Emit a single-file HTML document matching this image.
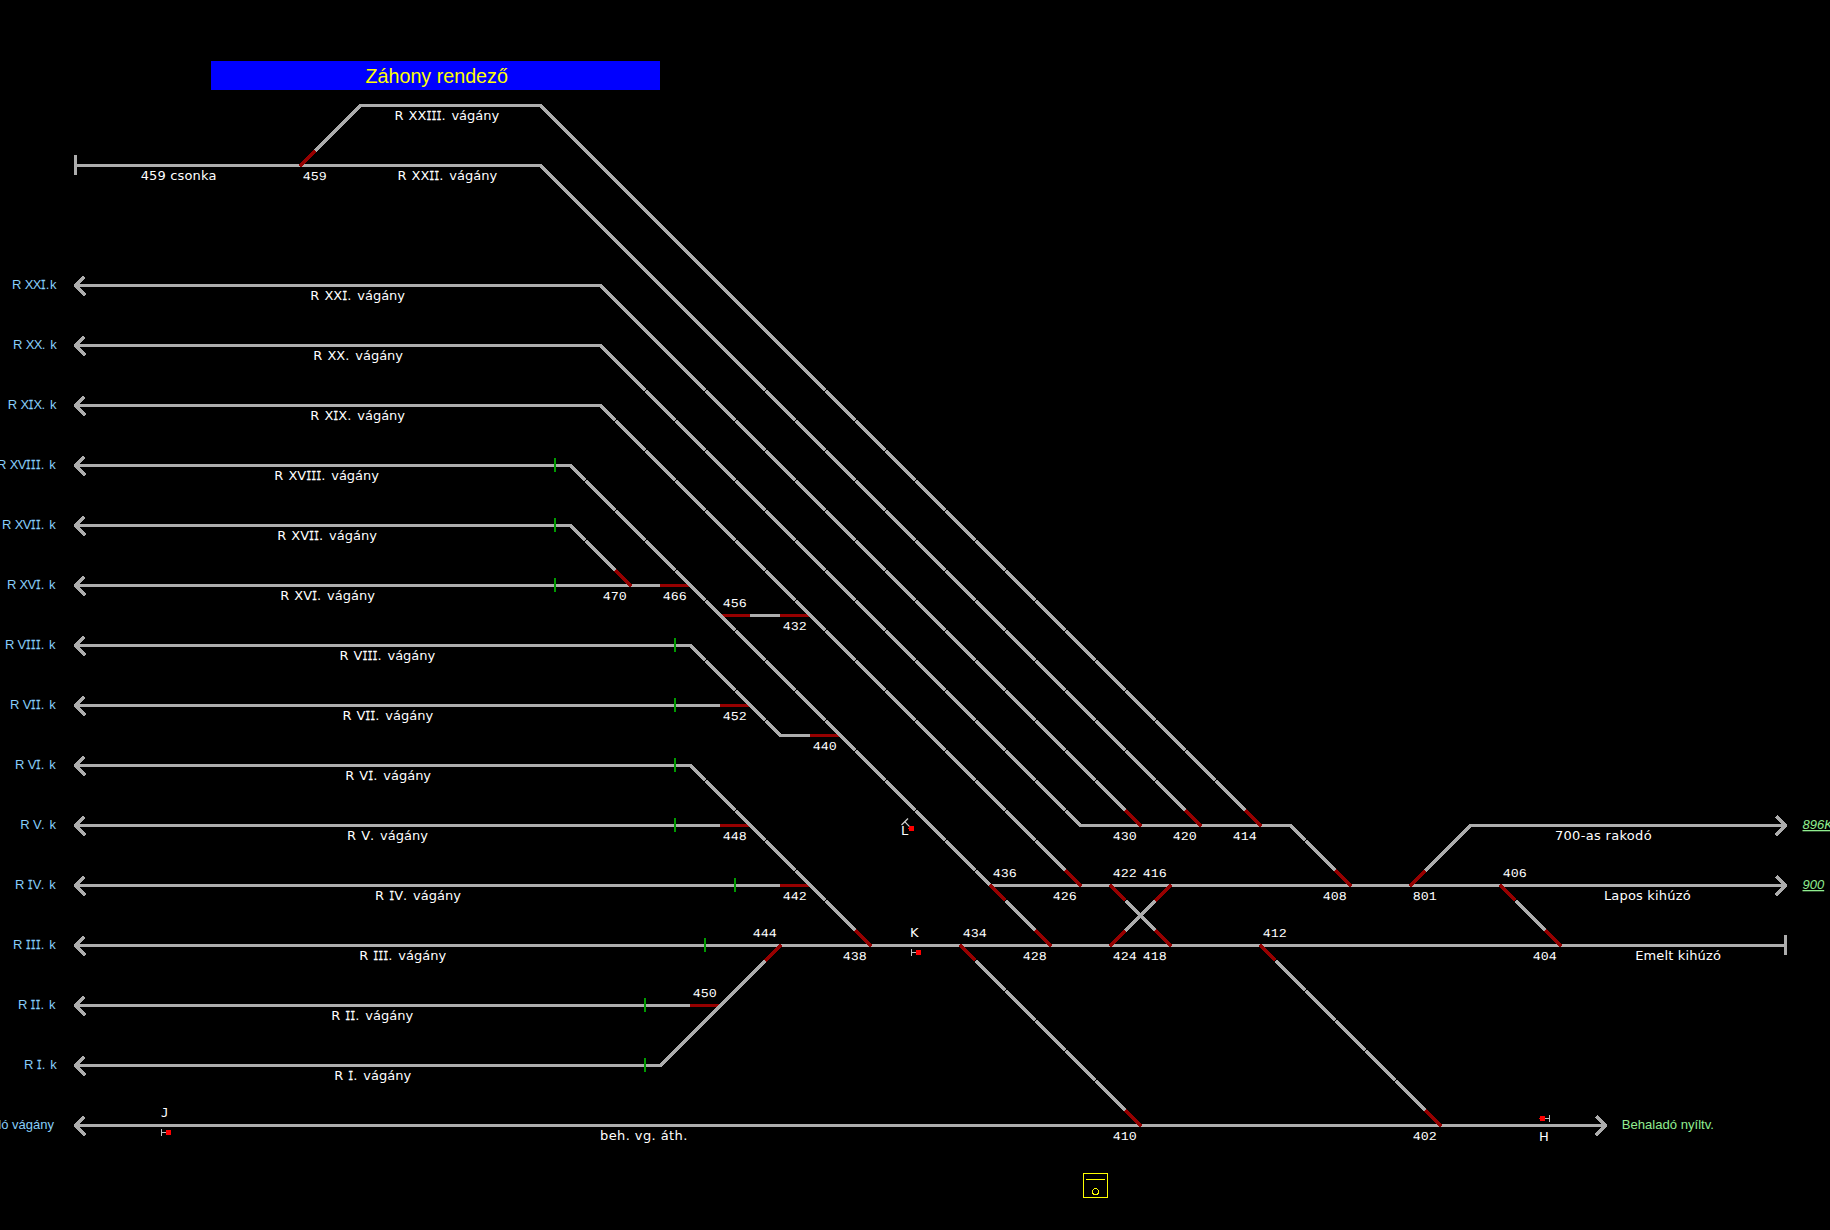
<!DOCTYPE html>
<html lang="hu"><head><meta charset="utf-8"><title>Záhony rendező</title>
<style>
html,body{margin:0;padding:0;background:#000;overflow:hidden}
svg{display:block}
</style></head>
<body>
<svg width="1830" height="1230" viewBox="0 0 1830 1230">
<rect width="1830" height="1230" fill="#000"/>
<rect x="211" y="61" width="449" height="29" fill="#00f"/>
<text x="436.7" y="83" font-family='"Liberation Sans",sans-serif' font-size="19.7" fill="#ff0" text-anchor="middle">Záhony rendező</text>
<g transform="translate(.49,.5)">
<g fill="none" stroke="#adadad" stroke-width="3.5" stroke-linejoin="miter" shape-rendering="crispEdges">
<polyline points="300,165 360,105 540,105 1260,825"/>
<polyline points="75,165 540,165 1200,825"/>
<polyline points="75,285 600,285 1140,825"/>
<polyline points="75,345 600,345 1080,825 1290,825 1350,885"/>
<polyline points="75,405 600,405 1080,885"/>
<polyline points="75,465 570,465 1050,945"/>
<polyline points="75,525 570,525 630,585"/>
<polyline points="75,585 690,585"/>
<polyline points="720,615 810,615"/>
<polyline points="75,645 690,645 780,735 840,735"/>
<polyline points="75,705 750,705"/>
<polyline points="75,765 690,765 870,945"/>
<polyline points="75,825 750,825"/>
<polyline points="75,885 810,885"/>
<polyline points="990,885 1785,885"/>
<polyline points="75,945 1785,945"/>
<polyline points="75,1005 720,1005"/>
<polyline points="75,1065 660,1065 780,945"/>
<polyline points="75,1125 1605,1125"/>
<polyline points="960,945 1140,1125"/>
<polyline points="1260,945 1440,1125"/>
<polyline points="1110,885 1170,945"/>
<polyline points="1170,885 1110,945"/>
<polyline points="1410,885 1470,825 1785,825"/>
<polyline points="1500,885 1560,945"/>
</g>
<g stroke="#960000" stroke-width="3.5" shape-rendering="crispEdges">
<line x1="660" y1="585" x2="690" y2="585"/>
<line x1="720" y1="615" x2="750" y2="615"/>
<line x1="780" y1="615" x2="810" y2="615"/>
<line x1="720" y1="705" x2="750" y2="705"/>
<line x1="810" y1="735" x2="840" y2="735"/>
<line x1="720" y1="825" x2="750" y2="825"/>
<line x1="780" y1="885" x2="810" y2="885"/>
<line x1="690" y1="1005" x2="720" y2="1005"/>
</g>
<g stroke="#adadad" stroke-width="3.5" shape-rendering="crispEdges">
<line x1="300" y1="165" x2="360" y2="105"/>
<line x1="540" y1="105" x2="1260" y2="825"/>
<line x1="540" y1="165" x2="1200" y2="825"/>
<line x1="600" y1="285" x2="1140" y2="825"/>
<line x1="600" y1="345" x2="1080" y2="825"/>
<line x1="1290" y1="825" x2="1350" y2="885"/>
<line x1="600" y1="405" x2="1080" y2="885"/>
<line x1="570" y1="465" x2="1050" y2="945"/>
<line x1="570" y1="525" x2="630" y2="585"/>
<line x1="690" y1="645" x2="780" y2="735"/>
<line x1="690" y1="765" x2="870" y2="945"/>
<line x1="660" y1="1065" x2="780" y2="945"/>
<line x1="960" y1="945" x2="1140" y2="1125"/>
<line x1="1260" y1="945" x2="1440" y2="1125"/>
<line x1="1110" y1="885" x2="1170" y2="945"/>
<line x1="1170" y1="885" x2="1110" y2="945"/>
<line x1="1410" y1="885" x2="1470" y2="825"/>
<line x1="1500" y1="885" x2="1560" y2="945"/>
</g>
<g stroke="#000" stroke-width="1">
<line x1="822" y1="393" x2="828" y2="387"/>
<line x1="852" y1="423" x2="858" y2="417"/>
<line x1="882" y1="453" x2="888" y2="447"/>
<line x1="912" y1="483" x2="918" y2="477"/>
<line x1="942" y1="513" x2="948" y2="507"/>
<line x1="972" y1="543" x2="978" y2="537"/>
<line x1="1002" y1="573" x2="1008" y2="567"/>
<line x1="1032" y1="603" x2="1038" y2="597"/>
<line x1="1062" y1="633" x2="1068" y2="627"/>
<line x1="1092" y1="663" x2="1098" y2="657"/>
<line x1="1122" y1="693" x2="1128" y2="687"/>
<line x1="1152" y1="723" x2="1158" y2="717"/>
<line x1="1182" y1="753" x2="1188" y2="747"/>
<line x1="1212" y1="783" x2="1218" y2="777"/>
<line x1="1242" y1="813" x2="1248" y2="807"/>
<line x1="762" y1="393" x2="768" y2="387"/>
<line x1="792" y1="423" x2="798" y2="417"/>
<line x1="822" y1="453" x2="828" y2="447"/>
<line x1="852" y1="483" x2="858" y2="477"/>
<line x1="882" y1="513" x2="888" y2="507"/>
<line x1="912" y1="543" x2="918" y2="537"/>
<line x1="942" y1="573" x2="948" y2="567"/>
<line x1="972" y1="603" x2="978" y2="597"/>
<line x1="1002" y1="633" x2="1008" y2="627"/>
<line x1="1032" y1="663" x2="1038" y2="657"/>
<line x1="1062" y1="693" x2="1068" y2="687"/>
<line x1="1092" y1="723" x2="1098" y2="717"/>
<line x1="1122" y1="753" x2="1128" y2="747"/>
<line x1="1152" y1="783" x2="1158" y2="777"/>
<line x1="1182" y1="813" x2="1188" y2="807"/>
<line x1="702" y1="393" x2="708" y2="387"/>
<line x1="732" y1="423" x2="738" y2="417"/>
<line x1="762" y1="453" x2="768" y2="447"/>
<line x1="792" y1="483" x2="798" y2="477"/>
<line x1="822" y1="513" x2="828" y2="507"/>
<line x1="852" y1="543" x2="858" y2="537"/>
<line x1="882" y1="573" x2="888" y2="567"/>
<line x1="912" y1="603" x2="918" y2="597"/>
<line x1="942" y1="633" x2="948" y2="627"/>
<line x1="972" y1="663" x2="978" y2="657"/>
<line x1="1002" y1="693" x2="1008" y2="687"/>
<line x1="1032" y1="723" x2="1038" y2="717"/>
<line x1="1062" y1="753" x2="1068" y2="747"/>
<line x1="1092" y1="783" x2="1098" y2="777"/>
<line x1="1122" y1="813" x2="1128" y2="807"/>
<line x1="642" y1="393" x2="648" y2="387"/>
<line x1="672" y1="423" x2="678" y2="417"/>
<line x1="702" y1="453" x2="708" y2="447"/>
<line x1="732" y1="483" x2="738" y2="477"/>
<line x1="762" y1="513" x2="768" y2="507"/>
<line x1="792" y1="543" x2="798" y2="537"/>
<line x1="822" y1="573" x2="828" y2="567"/>
<line x1="852" y1="603" x2="858" y2="597"/>
<line x1="882" y1="633" x2="888" y2="627"/>
<line x1="912" y1="663" x2="918" y2="657"/>
<line x1="942" y1="693" x2="948" y2="687"/>
<line x1="972" y1="723" x2="978" y2="717"/>
<line x1="1002" y1="753" x2="1008" y2="747"/>
<line x1="1032" y1="783" x2="1038" y2="777"/>
<line x1="1062" y1="813" x2="1068" y2="807"/>
<line x1="1302" y1="843" x2="1308" y2="837"/>
<line x1="1332" y1="873" x2="1338" y2="867"/>
<line x1="612" y1="423" x2="618" y2="417"/>
<line x1="642" y1="453" x2="648" y2="447"/>
<line x1="672" y1="483" x2="678" y2="477"/>
<line x1="702" y1="513" x2="708" y2="507"/>
<line x1="732" y1="543" x2="738" y2="537"/>
<line x1="762" y1="573" x2="768" y2="567"/>
<line x1="792" y1="603" x2="798" y2="597"/>
<line x1="822" y1="633" x2="828" y2="627"/>
<line x1="852" y1="663" x2="858" y2="657"/>
<line x1="882" y1="693" x2="888" y2="687"/>
<line x1="912" y1="723" x2="918" y2="717"/>
<line x1="942" y1="753" x2="948" y2="747"/>
<line x1="972" y1="783" x2="978" y2="777"/>
<line x1="1002" y1="813" x2="1008" y2="807"/>
<line x1="1032" y1="843" x2="1038" y2="837"/>
<line x1="1062" y1="873" x2="1068" y2="867"/>
<line x1="582" y1="483" x2="588" y2="477"/>
<line x1="612" y1="513" x2="618" y2="507"/>
<line x1="642" y1="543" x2="648" y2="537"/>
<line x1="672" y1="573" x2="678" y2="567"/>
<line x1="702" y1="603" x2="708" y2="597"/>
<line x1="732" y1="633" x2="738" y2="627"/>
<line x1="762" y1="663" x2="768" y2="657"/>
<line x1="792" y1="693" x2="798" y2="687"/>
<line x1="822" y1="723" x2="828" y2="717"/>
<line x1="852" y1="753" x2="858" y2="747"/>
<line x1="882" y1="783" x2="888" y2="777"/>
<line x1="912" y1="813" x2="918" y2="807"/>
<line x1="942" y1="843" x2="948" y2="837"/>
<line x1="972" y1="873" x2="978" y2="867"/>
<line x1="1002" y1="903" x2="1008" y2="897"/>
<line x1="1032" y1="933" x2="1038" y2="927"/>
<line x1="582" y1="543" x2="588" y2="537"/>
<line x1="612" y1="573" x2="618" y2="567"/>
<line x1="702" y1="663" x2="708" y2="657"/>
<line x1="732" y1="693" x2="738" y2="687"/>
<line x1="762" y1="723" x2="768" y2="717"/>
<line x1="702" y1="783" x2="708" y2="777"/>
<line x1="732" y1="813" x2="738" y2="807"/>
<line x1="762" y1="843" x2="768" y2="837"/>
<line x1="792" y1="873" x2="798" y2="867"/>
<line x1="822" y1="903" x2="828" y2="897"/>
<line x1="852" y1="933" x2="858" y2="927"/>
<line x1="972" y1="963" x2="978" y2="957"/>
<line x1="1002" y1="993" x2="1008" y2="987"/>
<line x1="1032" y1="1023" x2="1038" y2="1017"/>
<line x1="1062" y1="1053" x2="1068" y2="1047"/>
<line x1="1092" y1="1083" x2="1098" y2="1077"/>
<line x1="1122" y1="1113" x2="1128" y2="1107"/>
<line x1="1272" y1="963" x2="1278" y2="957"/>
<line x1="1302" y1="993" x2="1308" y2="987"/>
<line x1="1332" y1="1023" x2="1338" y2="1017"/>
<line x1="1362" y1="1053" x2="1368" y2="1047"/>
<line x1="1392" y1="1083" x2="1398" y2="1077"/>
<line x1="1422" y1="1113" x2="1428" y2="1107"/>
<line x1="1122" y1="903" x2="1128" y2="897"/>
<line x1="1152" y1="933" x2="1158" y2="927"/>
<line x1="1512" y1="903" x2="1518" y2="897"/>
<line x1="1542" y1="933" x2="1548" y2="927"/>
</g>
<g stroke="#960000" stroke-width="3.5" shape-rendering="crispEdges">
<line x1="299.25" y1="165.75" x2="315" y2="150"/>
<line x1="615" y1="570" x2="630.75" y2="585.75"/>
<line x1="765" y1="960" x2="780.75" y2="944.25"/>
<line x1="855" y1="930" x2="870.75" y2="945.75"/>
<line x1="959.25" y1="944.25" x2="975" y2="960"/>
<line x1="989.25" y1="884.25" x2="1005" y2="900"/>
<line x1="1065" y1="870" x2="1080.75" y2="885.75"/>
<line x1="1035" y1="930" x2="1050.75" y2="945.75"/>
<line x1="1109.25" y1="884.25" x2="1125" y2="900"/>
<line x1="1170.75" y1="884.25" x2="1155" y2="900"/>
<line x1="1109.25" y1="945.75" x2="1125" y2="930"/>
<line x1="1170.75" y1="945.75" x2="1155" y2="930"/>
<line x1="1125" y1="810" x2="1140.75" y2="825.75"/>
<line x1="1185" y1="810" x2="1200.75" y2="825.75"/>
<line x1="1245" y1="810" x2="1260.75" y2="825.75"/>
<line x1="1335" y1="870" x2="1350.75" y2="885.75"/>
<line x1="1409.25" y1="885.75" x2="1425" y2="870"/>
<line x1="1499.25" y1="884.25" x2="1515" y2="900"/>
<line x1="1545" y1="930" x2="1560.75" y2="945.75"/>
<line x1="1259.25" y1="944.25" x2="1275" y2="960"/>
<line x1="1125" y1="1110" x2="1140.75" y2="1125.75"/>
<line x1="1425" y1="1110" x2="1440.75" y2="1125.75"/>
</g>
<g fill="none" stroke="#adadad" stroke-width="3.5" stroke-linejoin="bevel" shape-rendering="crispEdges">
<polyline points="84,276 75,285 84.6,294.6"/>
<polyline points="84,336 75,345 84.6,354.6"/>
<polyline points="84,396 75,405 84.6,414.6"/>
<polyline points="84,456 75,465 84.6,474.6"/>
<polyline points="84,516 75,525 84.6,534.6"/>
<polyline points="84,576 75,585 84.6,594.6"/>
<polyline points="84,636 75,645 84.6,654.6"/>
<polyline points="84,696 75,705 84.6,714.6"/>
<polyline points="84,756 75,765 84.6,774.6"/>
<polyline points="84,816 75,825 84.6,834.6"/>
<polyline points="84,876 75,885 84.6,894.6"/>
<polyline points="84,936 75,945 84.6,954.6"/>
<polyline points="84,996 75,1005 84.6,1014.6"/>
<polyline points="84,1056 75,1065 84.6,1074.6"/>
<polyline points="84,1116 75,1125 84.6,1134.6"/>
<polyline points="1776,816 1785,825 1775.4,834.6"/>
<polyline points="1776,876 1785,885 1775.4,894.6"/>
<polyline points="1596,1116 1605,1125 1595.4,1134.6"/>
</g>
<g stroke="#adadad" stroke-width="3" shape-rendering="crispEdges">
<line x1="75" y1="154.5" x2="75" y2="174.5"/>
<line x1="1785" y1="934.5" x2="1785" y2="954.5"/>
</g>
<g fill="#009900" shape-rendering="crispEdges" transform="translate(-.5,-.5)">
<rect x="554" y="458" width="2" height="14"/>
<rect x="554" y="518" width="2" height="14"/>
<rect x="554" y="578" width="2" height="14"/>
<rect x="674" y="638" width="2" height="14"/>
<rect x="674" y="698" width="2" height="14"/>
<rect x="674" y="758" width="2" height="14"/>
<rect x="674" y="818" width="2" height="14"/>
<rect x="734" y="878" width="2" height="14"/>
<rect x="704" y="938" width="2" height="14"/>
<rect x="644" y="998" width="2" height="14"/>
<rect x="644" y="1058" width="2" height="14"/>
</g>
</g>
<g shape-rendering="crispEdges">
<rect x="161" y="1129" width="1" height="7" fill="#c0c0c0"/><rect x="162" y="1132" width="4" height="1" fill="#c0c0c0"/><rect x="166" y="1130" width="5" height="5" fill="#f00"/>
<rect x="911" y="949" width="1" height="7" fill="#c0c0c0"/><rect x="912" y="952" width="4" height="1" fill="#c0c0c0"/><rect x="916" y="950" width="5" height="5" fill="#f00"/>
<rect x="1549" y="1115" width="1" height="7" fill="#c0c0c0"/><rect x="1545" y="1118" width="4" height="1" fill="#c0c0c0"/><rect x="1540" y="1116" width="5" height="5" fill="#f00"/><rect x="1539" y="1118" width="1" height="1" fill="#f00"/>
<rect x="909" y="826" width="5" height="5" fill="#f00"/><rect x="908" y="828" width="1" height="1" fill="#f00"/>
</g>
<g stroke="#d0d0d0" stroke-width="1.2"><line x1="901.5" y1="825" x2="908" y2="818.5"/><line x1="904.7" y1="821.7" x2="909.3" y2="826.3"/></g>
<g fill="none" stroke="#ff0" stroke-width="1" shape-rendering="crispEdges"><rect x="1083.5" y="1173.5" width="24" height="24"/><line x1="1086" y1="1179.5" x2="1105" y2="1179.5"/></g><circle cx="1095.5" cy="1191.5" r="3" fill="none" stroke="#ff0" stroke-width="1" shape-rendering="crispEdges"/>
<g font-family='"DejaVu Sans","Liberation Sans",sans-serif' font-size="13" fill="#fff" text-anchor="middle">
<text x="446.9" y="120" word-spacing="0.87">R XX<tspan font-family="DejaVu Sans Mono,Liberation Mono,monospace" dx="0.00" textLength="15" lengthAdjust="spacingAndGlyphs" stroke="#fff" stroke-width="0.35">III</tspan><tspan letter-spacing="0.87">.</tspan> vágány</text>
<text x="447.3" y="180" word-spacing="0.87">R XX<tspan font-family="DejaVu Sans Mono,Liberation Mono,monospace" dx="0.00" textLength="10" lengthAdjust="spacingAndGlyphs" stroke="#fff" stroke-width="0.35">II</tspan><tspan letter-spacing="0.87">.</tspan> vágány</text>
<text x="178.5" y="180" textLength="75.7" lengthAdjust="spacing">459 csonka</text>
<text x="357.7" y="300" word-spacing="0.87">R XX<tspan font-family="DejaVu Sans Mono,Liberation Mono,monospace" dx="0.00" textLength="5" lengthAdjust="spacingAndGlyphs" stroke="#fff" stroke-width="0.35">I</tspan><tspan letter-spacing="0.87">.</tspan> vágány</text>
<text x="358.2" y="360" word-spacing="0.87">R XX<tspan letter-spacing="0.87">.</tspan> vágány</text>
<text x="357.7" y="420" word-spacing="0.87">R X<tspan font-family="DejaVu Sans Mono,Liberation Mono,monospace" dx="0.00" textLength="5" lengthAdjust="spacingAndGlyphs" stroke="#fff" stroke-width="0.35">I</tspan>X<tspan letter-spacing="0.87">.</tspan> vágány</text>
<text x="326.7" y="480" word-spacing="0.87">R XV<tspan font-family="DejaVu Sans Mono,Liberation Mono,monospace" dx="0.00" textLength="15" lengthAdjust="spacingAndGlyphs" stroke="#fff" stroke-width="0.35">III</tspan><tspan letter-spacing="0.87">.</tspan> vágány</text>
<text x="327.1" y="540" word-spacing="0.87">R XV<tspan font-family="DejaVu Sans Mono,Liberation Mono,monospace" dx="0.00" textLength="10" lengthAdjust="spacingAndGlyphs" stroke="#fff" stroke-width="0.35">II</tspan><tspan letter-spacing="0.87">.</tspan> vágány</text>
<text x="327.6" y="600" word-spacing="0.87">R XV<tspan font-family="DejaVu Sans Mono,Liberation Mono,monospace" dx="0.00" textLength="5" lengthAdjust="spacingAndGlyphs" stroke="#fff" stroke-width="0.35">I</tspan><tspan letter-spacing="0.87">.</tspan> vágány</text>
<text x="387.4" y="660" word-spacing="0.87">R V<tspan font-family="DejaVu Sans Mono,Liberation Mono,monospace" dx="0.00" textLength="15" lengthAdjust="spacingAndGlyphs" stroke="#fff" stroke-width="0.35">III</tspan><tspan letter-spacing="0.87">.</tspan> vágány</text>
<text x="387.8" y="720" word-spacing="0.87">R V<tspan font-family="DejaVu Sans Mono,Liberation Mono,monospace" dx="0.00" textLength="10" lengthAdjust="spacingAndGlyphs" stroke="#fff" stroke-width="0.35">II</tspan><tspan letter-spacing="0.87">.</tspan> vágány</text>
<text x="388.2" y="780" word-spacing="0.87">R V<tspan font-family="DejaVu Sans Mono,Liberation Mono,monospace" dx="0.00" textLength="5" lengthAdjust="spacingAndGlyphs" stroke="#fff" stroke-width="0.35">I</tspan><tspan letter-spacing="0.87">.</tspan> vágány</text>
<text x="387.5" y="840" word-spacing="0.87">R V<tspan letter-spacing="0.87">.</tspan> vágány</text>
<text x="418" y="900" word-spacing="0.87">R <tspan font-family="DejaVu Sans Mono,Liberation Mono,monospace" dx="0.00" textLength="5" lengthAdjust="spacingAndGlyphs" stroke="#fff" stroke-width="0.35">I</tspan>V<tspan letter-spacing="0.87">.</tspan> vágány</text>
<text x="402.7" y="960" word-spacing="0.87">R <tspan font-family="DejaVu Sans Mono,Liberation Mono,monospace" dx="0.00" textLength="15" lengthAdjust="spacingAndGlyphs" stroke="#fff" stroke-width="0.35">III</tspan><tspan letter-spacing="0.87">.</tspan> vágány</text>
<text x="372.2" y="1020" word-spacing="0.87">R <tspan font-family="DejaVu Sans Mono,Liberation Mono,monospace" dx="0.00" textLength="10" lengthAdjust="spacingAndGlyphs" stroke="#fff" stroke-width="0.35">II</tspan><tspan letter-spacing="0.87">.</tspan> vágány</text>
<text x="372.7" y="1080" word-spacing="0.87">R <tspan font-family="DejaVu Sans Mono,Liberation Mono,monospace" dx="0.00" textLength="5" lengthAdjust="spacingAndGlyphs" stroke="#fff" stroke-width="0.35">I</tspan><tspan letter-spacing="0.87">.</tspan> vágány</text>
<text x="643.7" y="1140" textLength="87.3" lengthAdjust="spacing">beh. vg. áth.</text>
<text x="1603.3" y="840" textLength="96.7" lengthAdjust="spacing">700-as rakodó</text>
<text x="1647.3" y="900" textLength="86.8" lengthAdjust="spacing">Lapos kihúzó</text>
<text x="1678" y="960" textLength="85.7" lengthAdjust="spacing">Emelt kihúzó</text>
</g>
<g font-family='"Liberation Mono",monospace' font-size="12" fill="#fff" text-rendering="geometricPrecision">
<text x="302.8" y="180" textLength="24" lengthAdjust="spacingAndGlyphs">459</text>
<text x="602.8" y="600" textLength="24" lengthAdjust="spacingAndGlyphs">470</text>
<text x="662.8" y="600" textLength="24" lengthAdjust="spacingAndGlyphs">466</text>
<text x="722.8" y="607" textLength="24" lengthAdjust="spacingAndGlyphs">456</text>
<text x="782.8" y="630" textLength="24" lengthAdjust="spacingAndGlyphs">432</text>
<text x="722.8" y="720" textLength="24" lengthAdjust="spacingAndGlyphs">452</text>
<text x="812.8" y="750" textLength="24" lengthAdjust="spacingAndGlyphs">440</text>
<text x="722.8" y="840" textLength="24" lengthAdjust="spacingAndGlyphs">448</text>
<text x="782.8" y="900" textLength="24" lengthAdjust="spacingAndGlyphs">442</text>
<text x="752.8" y="937" textLength="24" lengthAdjust="spacingAndGlyphs">444</text>
<text x="842.8" y="960" textLength="24" lengthAdjust="spacingAndGlyphs">438</text>
<text x="692.8" y="997" textLength="24" lengthAdjust="spacingAndGlyphs">450</text>
<text x="962.8" y="937" textLength="24" lengthAdjust="spacingAndGlyphs">434</text>
<text x="992.8" y="877" textLength="24" lengthAdjust="spacingAndGlyphs">436</text>
<text x="1052.8" y="900" textLength="24" lengthAdjust="spacingAndGlyphs">426</text>
<text x="1022.8" y="960" textLength="24" lengthAdjust="spacingAndGlyphs">428</text>
<text x="1112.8" y="877" textLength="24" lengthAdjust="spacingAndGlyphs">422</text>
<text x="1142.8" y="877" textLength="24" lengthAdjust="spacingAndGlyphs">416</text>
<text x="1112.8" y="960" textLength="24" lengthAdjust="spacingAndGlyphs">424</text>
<text x="1142.8" y="960" textLength="24" lengthAdjust="spacingAndGlyphs">418</text>
<text x="1112.8" y="840" textLength="24" lengthAdjust="spacingAndGlyphs">430</text>
<text x="1172.8" y="840" textLength="24" lengthAdjust="spacingAndGlyphs">420</text>
<text x="1232.8" y="840" textLength="24" lengthAdjust="spacingAndGlyphs">414</text>
<text x="1322.8" y="900" textLength="24" lengthAdjust="spacingAndGlyphs">408</text>
<text x="1412.8" y="900" textLength="24" lengthAdjust="spacingAndGlyphs">801</text>
<text x="1502.8" y="877" textLength="24" lengthAdjust="spacingAndGlyphs">406</text>
<text x="1532.8" y="960" textLength="24" lengthAdjust="spacingAndGlyphs">404</text>
<text x="1262.8" y="937" textLength="24" lengthAdjust="spacingAndGlyphs">412</text>
<text x="1112.8" y="1140" textLength="24" lengthAdjust="spacingAndGlyphs">410</text>
<text x="1412.8" y="1140" textLength="24" lengthAdjust="spacingAndGlyphs">402</text>
</g>
<g font-family='"Liberation Sans",sans-serif' font-size="13" fill="#87cefa">
<text x="12.1" y="289"><tspan letter-spacing="-0.3">R</tspan> <tspan letter-spacing="-0.67">XX</tspan><tspan font-family="DejaVu Sans Mono,Liberation Mono,monospace" textLength="5" lengthAdjust="spacingAndGlyphs" stroke="#87cefa" stroke-width="0.3">I</tspan><tspan letter-spacing="0.6">.</tspan>k</text>
<text x="13.1" y="349"><tspan letter-spacing="-0.3">R</tspan> <tspan letter-spacing="-0.67">XX</tspan><tspan letter-spacing="0.6">.</tspan><tspan letter-spacing="0.6"> </tspan>k</text>
<text x="7.8" y="409"><tspan letter-spacing="-0.3">R</tspan> <tspan letter-spacing="-0.67">X</tspan><tspan font-family="DejaVu Sans Mono,Liberation Mono,monospace" textLength="5" lengthAdjust="spacingAndGlyphs" stroke="#87cefa" stroke-width="0.3">I</tspan><tspan letter-spacing="-0.67">X</tspan><tspan letter-spacing="0.6">.</tspan><tspan letter-spacing="0.6"> </tspan>k</text>
<text x="-2.9" y="469"><tspan letter-spacing="-0.3">R</tspan> <tspan letter-spacing="-0.67">XV</tspan><tspan font-family="DejaVu Sans Mono,Liberation Mono,monospace" textLength="15" lengthAdjust="spacingAndGlyphs" stroke="#87cefa" stroke-width="0.3">III</tspan><tspan letter-spacing="0.6">.</tspan><tspan letter-spacing="0.6"> </tspan>k</text>
<text x="2.1" y="529"><tspan letter-spacing="-0.3">R</tspan> <tspan letter-spacing="-0.67">XV</tspan><tspan font-family="DejaVu Sans Mono,Liberation Mono,monospace" textLength="10" lengthAdjust="spacingAndGlyphs" stroke="#87cefa" stroke-width="0.3">II</tspan><tspan letter-spacing="0.6">.</tspan><tspan letter-spacing="0.6"> </tspan>k</text>
<text x="6.9" y="589"><tspan letter-spacing="-0.3">R</tspan> <tspan letter-spacing="-0.67">XV</tspan><tspan font-family="DejaVu Sans Mono,Liberation Mono,monospace" textLength="5" lengthAdjust="spacingAndGlyphs" stroke="#87cefa" stroke-width="0.3">I</tspan><tspan letter-spacing="0.6">.</tspan><tspan letter-spacing="0.6"> </tspan>k</text>
<text x="4.9" y="649"><tspan letter-spacing="-0.3">R</tspan> <tspan letter-spacing="-0.67">V</tspan><tspan font-family="DejaVu Sans Mono,Liberation Mono,monospace" textLength="15" lengthAdjust="spacingAndGlyphs" stroke="#87cefa" stroke-width="0.3">III</tspan><tspan letter-spacing="0.6">.</tspan><tspan letter-spacing="0.6"> </tspan>k</text>
<text x="10.1" y="709"><tspan letter-spacing="-0.3">R</tspan> <tspan letter-spacing="-0.67">V</tspan><tspan font-family="DejaVu Sans Mono,Liberation Mono,monospace" textLength="10" lengthAdjust="spacingAndGlyphs" stroke="#87cefa" stroke-width="0.3">II</tspan><tspan letter-spacing="0.6">.</tspan><tspan letter-spacing="0.6"> </tspan>k</text>
<text x="15.1" y="769"><tspan letter-spacing="-0.3">R</tspan> <tspan letter-spacing="-0.67">V</tspan><tspan font-family="DejaVu Sans Mono,Liberation Mono,monospace" textLength="5" lengthAdjust="spacingAndGlyphs" stroke="#87cefa" stroke-width="0.3">I</tspan><tspan letter-spacing="0.6">.</tspan><tspan letter-spacing="0.6"> </tspan>k</text>
<text x="20.3" y="829"><tspan letter-spacing="-0.3">R</tspan> <tspan letter-spacing="-0.67">V</tspan><tspan letter-spacing="0.6">.</tspan><tspan letter-spacing="0.6"> </tspan>k</text>
<text x="15.1" y="889"><tspan letter-spacing="-0.3">R</tspan> <tspan font-family="DejaVu Sans Mono,Liberation Mono,monospace" textLength="5" lengthAdjust="spacingAndGlyphs" stroke="#87cefa" stroke-width="0.3">I</tspan><tspan letter-spacing="-0.67">V</tspan><tspan letter-spacing="0.6">.</tspan><tspan letter-spacing="0.6"> </tspan>k</text>
<text x="13.1" y="949"><tspan letter-spacing="-0.3">R</tspan> <tspan font-family="DejaVu Sans Mono,Liberation Mono,monospace" textLength="15" lengthAdjust="spacingAndGlyphs" stroke="#87cefa" stroke-width="0.3">III</tspan><tspan letter-spacing="0.6">.</tspan><tspan letter-spacing="0.6"> </tspan>k</text>
<text x="17.9" y="1009"><tspan letter-spacing="-0.3">R</tspan> <tspan font-family="DejaVu Sans Mono,Liberation Mono,monospace" textLength="10" lengthAdjust="spacingAndGlyphs" stroke="#87cefa" stroke-width="0.3">II</tspan><tspan letter-spacing="0.6">.</tspan><tspan letter-spacing="0.6"> </tspan>k</text>
<text x="24.1" y="1069"><tspan letter-spacing="-0.3">R</tspan> <tspan font-family="DejaVu Sans Mono,Liberation Mono,monospace" textLength="5" lengthAdjust="spacingAndGlyphs" stroke="#87cefa" stroke-width="0.3">I</tspan><tspan letter-spacing="0.6">.</tspan><tspan letter-spacing="0.6"> </tspan>k</text>
<text x="54" y="1129" text-anchor="end">Behaladó vágány</text>
</g>
<text x="1621.7" y="1129" font-family='"Liberation Sans",sans-serif' font-size="13" fill="#90ee90" textLength="92.3" lengthAdjust="spacingAndGlyphs">Behaladó nyíltv.</text>
<g font-family='"Liberation Sans",sans-serif' font-size="13" font-style="italic" fill="#90ee90" text-decoration="underline">
<text x="1802.5" y="829">896K</text>
<text x="1802.5" y="889">900</text>
</g>
<g font-family='"DejaVu Sans","Liberation Sans",sans-serif' font-size="13" fill="#fff">
<text x="161" y="1117" font-family='"DejaVu Sans Mono","Liberation Mono",monospace' font-size="12.4">J</text>
<text x="910" y="937">K</text>
<text x="901" y="835">L</text>
<text x="1539" y="1141">H</text>
</g>
</svg>
</body></html>
